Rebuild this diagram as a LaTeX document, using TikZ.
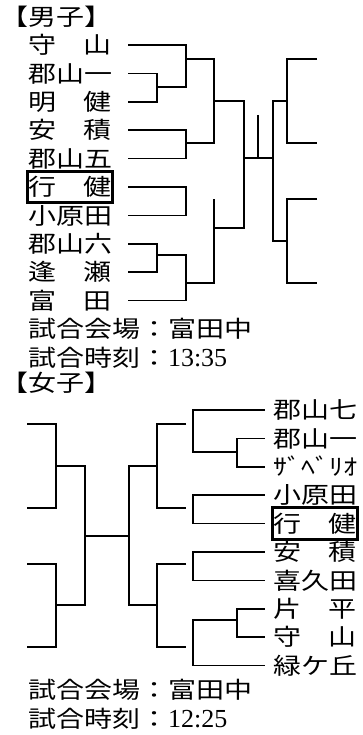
\documentclass[tikz,border=0pt]{standalone}
\usepackage{fontspec}
\setmainfont{Liberation Serif}
\newfontfamily\jpfam[FakeStretch=1.2174]{Noto Sans CJK JP}
\newcommand\jp{\jpfam\fontsize{23bp}{28bp}\selectfont}
\newcommand\hhmm[1]{{\rmfamily\fontsize{26bp}{28bp}\selectfont #1}}
\usepackage{tikz}
\usetikzlibrary{positioning, fit}
\tikzstyle{wire}=[line width=1.45bp]
\tikzstyle{team}=[inner sep=0pt, minimum height=28bp, text width=84bp,
text height=20.4bp, text depth=3bp, font=\jp]
\tikzstyle{info}=[inner sep=0pt, minimum height=28bp, anchor=west,
text height=20.4bp, text depth=3bp, font=\jp]
\tikzstyle{winbox}=[draw, line width=3.3bp, inner xsep=0.4bp, inner ysep=1.6bp]
\tikzset{
    leaf/.style={wire, shorten <=#1},
    pair/.style={wire, shorten <=#1, shorten >=#1}
}

\begin{document}
\begin{tikzpicture}[x=1bp, y=-1bp, node distance=0bp]
    \useasboundingbox (0,0) rectangle (362,735);

    \node[info] (tm) at (0,17) {【男子】};
    \node[team] (m1) at (70,45) {守\hfill 山};
    \node[team, below=of m1] (m2) {郡山一};
    \node[team, below=of m2] (m3) {明\hfill 健};
    \node[team, below=of m3] (m4) {安\hfill 積};
    \node[team, below=of m4] (m5) {郡山五};
    \node[team, below=of m5] (m6) {行\hfill 健};
    \node[team, below=of m6] (m7) {小原田};
    \node[team, below=of m7] (m8) {郡山六};
    \node[team, below=of m8] (m9) {逢\hfill 瀬};
    \node[team, below=of m9] (m10) {富\hfill 田};
    \node[info, below=of m10.south west, anchor=north west] (im1) {試合会場：富田中};
    \node[info, below=of im1.south west, anchor=north west] (im2) {試合時刻：\hhmm{13:35}};
    \node[winbox, fit=(m6)] (bm) {};

    \node[info] (tw) at (0,383) {【女子】};
    \node[team] (w1) at (315,410) {郡山七};
    \node[team, below=of w1] (w2) {郡山一};
    \node[team, below=of w2] (w3) {ｻﾞﾍﾞﾘｵ};
    \node[team, below=of w3] (w4) {小原田};
    \node[team, below=of w4] (w5) {行\hfill 健};
    \node[team, below=of w5] (w6) {安\hfill 積};
    \node[team, below=of w6] (w7) {喜久田};
    \node[team, below=of w7] (w8) {片\hfill 平};
    \node[team, below=of w8] (w9) {守\hfill 山};
    \node[team, below=of w9] (w10) {緑ケ丘};
    \node[info] (iw1) at (28,690) {試合会場：富田中};
    \node[info, below=of iw1.south west, anchor=north west] (iw2) {試合時刻：\hhmm{12:25}};
    \node[winbox, fit=(w5)] (bw) {};

    \coordinate (a1) at (157,87);
    \coordinate (a2) at (186,59);
    \coordinate (a3) at (186,143);
    \coordinate (a4) at (186,199);
    \coordinate (a5) at (157,255);
    \coordinate (a6) at (186,283);
    \coordinate (b1) at (214,101);
    \coordinate (b2) at (214,228);
    \coordinate (c) at (244,158);
    \coordinate (mk) at (258,115);
    \coordinate (d) at (273,158);
    \coordinate (e1) at (287,101);
    \coordinate (e2) at (287,241);
    \coordinate (f1) at (317,59);
    \coordinate (f2) at (317,143);
    \coordinate (f3) at (317,199);
    \coordinate (f4) at (317,283);

    \draw[pair=16bp] (m2.east) -| (a1) |- (m3.east);
    \draw[leaf=16bp] (m1.east) -| (a2) |- (a1);
    \draw[pair=16bp] (m4.east) -| (a3) |- (m5.east);
    \draw[wire] (a2) -| (b1) |- (a3);
    \draw[pair=16bp] (m6.east) -| (a4) |- (m7.east);
    \draw[pair=16bp] (m8.east) -| (a5) |- (m9.east);
    \draw[leaf=16bp] (m10.east) -| (a6) |- (a5);
    \draw[wire] (a6) -| (b2 |- a4);
    \draw[wire] (b1) -| (c) |- (b2);
    \draw[wire] (c) -- (d);
    \draw[wire] (mk) -- (mk |- c);
    \draw[wire] (e1) -| (d) |- (e2);
    \draw[wire] (f1) -| (e1) |- (f2);
    \draw[wire] (f3) -| (e2) |- (f4);

    \coordinate (g1) at (237,452);
    \coordinate (g2) at (193,424);
    \coordinate (g3) at (193,508);
    \coordinate (g4) at (193,564);
    \coordinate (g5) at (237,620);
    \coordinate (g6) at (193,647);
    \coordinate (h1) at (157,466);
    \coordinate (h2) at (157,605);
    \coordinate (k) at (129,536);
    \coordinate (l) at (85,536);
    \coordinate (n1) at (56,466);
    \coordinate (n2) at (56,605);
    \coordinate (o1) at (27,424);
    \coordinate (o2) at (27,508);
    \coordinate (o3) at (27,564);
    \coordinate (o4) at (27,647);

    \draw[pair=8bp] (w2.west) -| (g1) |- (w3.west);
    \draw[leaf=8bp] (w1.west) -| (g2) |- (g1);
    \draw[pair=8bp] (w4.west) -| (g3) |- (w5.west);
    \draw[pair=8bp] (w6.west) -| (g4) |- (w7.west);
    \draw[pair=8bp] (w8.west) -| (g5) |- (w9.west);
    \draw[leaf=8bp] (w10.west) -| (g6) |- (g5);
    \draw[pair=7bp] (g2) -| (h1) |- (g3);
    \draw[pair=7bp] (g4) -| (h2) |- (g6);
    \draw[wire] (h1) -| (k) |- (h2);
    \draw[wire] (k) -- (l);
    \draw[wire] (n1) -| (l) |- (n2);
    \draw[wire] (o1) -| (n1) |- (o2);
    \draw[wire] (o3) -| (n2) |- (o4);
\end{tikzpicture}
\end{document}
